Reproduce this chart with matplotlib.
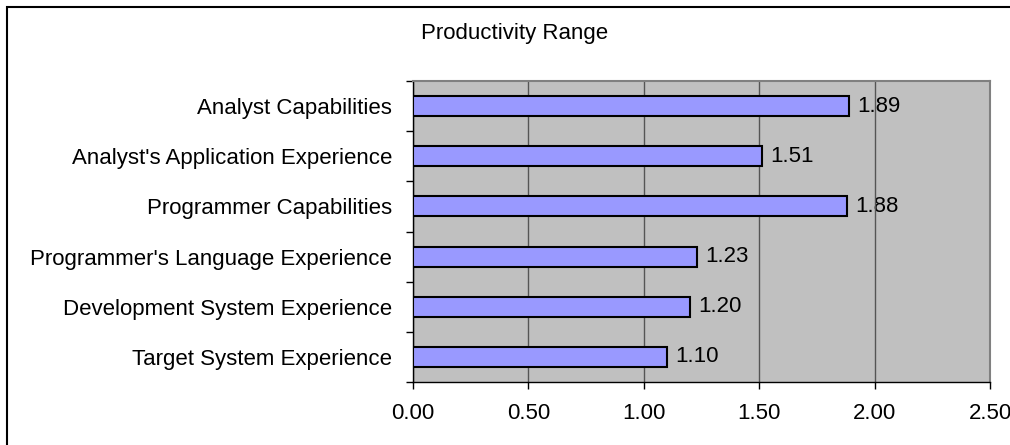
import numpy as np
import matplotlib.pyplot as plt
from matplotlib.patches import Rectangle

plt.rcParams['font.family'] = ['Liberation Sans', 'DejaVu Sans']

categories = ["Analyst Capabilities", "Analyst's Application Experience",
              "Programmer Capabilities", "Programmer's Language Experience",
              "Development System Experience", "Target System Experience"]
values = [1.89, 1.51, 1.88, 1.23, 1.20, 1.10]
xticks = [0.0, 0.5, 1.0, 1.5, 2.0, 2.5]

fs = 16

fig = plt.figure(figsize=(10.1, 4.45), dpi=100)
ax = fig.add_axes([413 / 1010, 1 - 382 / 445, 577 / 1010, 301 / 445])
ax.set_facecolor('#C0C0C0')

y = np.arange(len(categories))
ax.barh(y, values, height=0.4, color='#9999FF', edgecolor='black', linewidth=1.5, zorder=3)
for yi, v in zip(y, values):
    ax.annotate(f'{v:.2f}', (v, yi), xytext=(6, 0), textcoords='offset points',
                va='center', ha='left', fontsize=fs, zorder=0)

ax.set_xlim(0, 2.5)
ax.set_ylim(len(categories) - 0.5, -0.5)
ax.set_xticks(xticks)
ax.set_xticklabels([f'{t:.2f}' for t in xticks], fontsize=fs)
ax.set_yticks(y)
ax.set_yticklabels(categories, fontsize=fs)
ax.set_yticks(np.arange(len(categories) + 1) - 0.5, minor=True)
ax.tick_params(axis='y', which='major', length=0, pad=15)
ax.tick_params(axis='y', which='minor', length=5, width=1, direction='out')
ax.tick_params(axis='x', length=5, width=1, direction='out', pad=10)

ax.grid(axis='x', color='#555555', linewidth=1, zorder=1)
ax.set_axisbelow(True)
for s in ['top', 'right']:
    ax.spines[s].set_color('#808080')
    ax.spines[s].set_linewidth(1.5)
for s in ['left', 'bottom']:
    ax.spines[s].set_color('black')
    ax.spines[s].set_linewidth(1)

fig.text(515 / 1010, 1 - 33 / 445, 'Productivity Range', ha='center', va='center', fontsize=fs)

fig.add_artist(Rectangle((7 / 1010, -0.1), 1.2, 1.1 - 7 / 445, transform=fig.transFigure,
                         fill=False, edgecolor='black', linewidth=1.5))

fig.savefig('out.png', dpi=100)
